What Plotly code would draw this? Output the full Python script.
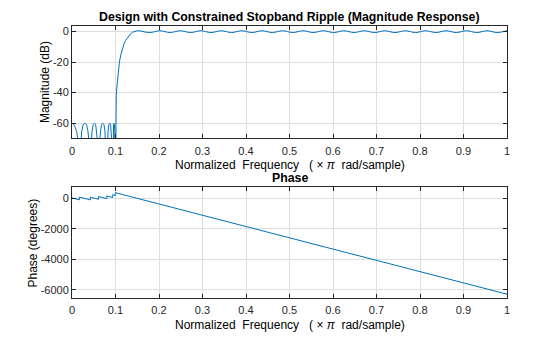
import plotly.graph_objects as go

# ---------------- magnitude response (dB) ----------------
# stopband lobes (nulls fall below the visible range and get clipped)
stop_freq = [0, 0.004, 0.008, 0.011, 0.014, 0.0158, 0.017,
             0.0183, 0.0195, 0.0225, 0.0255, 0.0295, 0.0335, 0.0365, 0.0395, 0.0407, 0.042,
             0.0430, 0.0439, 0.0462, 0.0485, 0.0515, 0.0545, 0.0568, 0.0591, 0.0600, 0.061,
             0.0620, 0.0629, 0.0652, 0.0675, 0.0705, 0.0735, 0.0758, 0.0781, 0.0790, 0.080,
             0.0807, 0.0813, 0.0830, 0.0846, 0.0868, 0.0889, 0.0905, 0.0922, 0.0928, 0.0935,
             0.0938, 0.0941, 0.0948, 0.0955, 0.0965, 0.0975, 0.0982, 0.0989, 0.0992, 0.0995]
stop_db = [-60, -60.8, -63, -66, -72, -80, -110,
           -80, -73, -65, -61, -60, -61, -65, -73, -80, -110,
           -80, -73, -65, -61, -60, -61, -65, -73, -80, -110,
           -80, -73, -65, -61, -60, -61, -65, -73, -80, -110,
           -80, -73, -65, -61, -60, -61, -65, -73, -80, -110,
           -80, -73, -65, -61, -60, -61, -65, -73, -80, -110]

# transition band
trans_freq = [0.0995, 0.1000, 0.1008, 0.1018, 0.1030, 0.1045, 0.1065, 0.109, 0.112,
              0.115, 0.119, 0.123, 0.127, 0.131, 0.135, 0.139, 0.144, 0.149, 0.155]
trans_db = [-110, -62, -48, -42, -37, -32, -26, -20, -15.5,
            -12, -8.5, -6, -4.2, -2.6, -1.4, -0.5, 0.1, 0.4, 0.5]

# passband ripple extrema
pass_freq = [0.155, 0.1785, 0.202, 0.2255, 0.249, 0.2725, 0.296, 0.3195, 0.343, 0.3665,
             0.390, 0.4135, 0.437, 0.4605, 0.484, 0.5075, 0.531, 0.5545, 0.578, 0.6015,
             0.625, 0.6485, 0.672, 0.6955, 0.719, 0.7425, 0.766, 0.7895, 0.813, 0.8365,
             0.860, 0.8835, 0.907, 0.9305, 0.954, 0.9775, 1.0]
pass_db = [0.5, -0.7, 0.5, -0.7, 0.5, -0.7, 0.5, -0.7, 0.5, -0.7,
           0.5, -0.7, 0.5, -0.7, 0.5, -0.7, 0.5, -0.7, 0.5, -0.7,
           0.5, -0.7, 0.5, -0.7, 0.5, -0.7, 0.5, -0.7, 0.5, -0.7,
           0.5, -0.7, 0.5, -0.7, 0.5, -0.7, 0.5]

# ---------------- phase (degrees) ----------------
phase_stop_freq = [0, 0.017, 0.017, 0.042, 0.042, 0.061, 0.061, 0.080, 0.080,
                   0.0935, 0.0935, 0.0995, 0.0995]
phase_stop_deg = [40, -86, 94, -91, 89, -51, 129, -12, 168, 68, 248, 204, 384]
phase_pass_freq = [0.0995, 0.2, 0.3, 0.4, 0.5, 0.6, 0.7, 0.8, 0.9, 1.0]
phase_pass_deg = [384, -360, -1100, -1840, -2580, -3320, -4060, -4800, -5540, -6280]

x_ticks = [0, 0.1, 0.2, 0.3, 0.4, 0.5, 0.6, 0.7, 0.8, 0.9, 1]
x_ticktext = ["0", "0.1", "0.2", "0.3", "0.4", "0.5", "0.6", "0.7", "0.8", "0.9", "1"]
mag_ticks = [0, -20, -40, -60]
mag_ticktext = ["0", "-20", "-40", "-60"]
ph_ticks = [0, -2000, -4000, -6000]
ph_ticktext = ["0", "-2000", "-4000", "-6000"]

BLUE = "#0072BD"
FONT = "Liberation Sans, Arial, Helvetica, sans-serif"
AXC = "#262626"
GRID = "#dedede"

fig = go.Figure()
fig.add_trace(go.Scatter(x=stop_freq, y=stop_db, mode="lines",
                         line=dict(color=BLUE, width=1), xaxis="x", yaxis="y"))
fig.add_trace(go.Scatter(x=trans_freq, y=trans_db, mode="lines",
                         line=dict(color=BLUE, width=1), xaxis="x", yaxis="y"))
fig.add_trace(go.Scatter(x=pass_freq, y=pass_db, mode="lines",
                         line=dict(color=BLUE, width=1, shape="spline"),
                         xaxis="x", yaxis="y"))
fig.add_trace(go.Scatter(x=phase_stop_freq, y=phase_stop_deg, mode="lines",
                         line=dict(color=BLUE, width=1), xaxis="x2", yaxis="y2"))
fig.add_trace(go.Scatter(x=phase_pass_freq, y=phase_pass_deg, mode="lines",
                         line=dict(color=BLUE, width=1), xaxis="x2", yaxis="y2"))

axis_common = dict(showline=True, linecolor=AXC, linewidth=1, mirror="ticks",
                   ticks="inside", ticklen=4, tickcolor=AXC, showgrid=True,
                   gridcolor=GRID, gridwidth=1, zeroline=False,
                   tickfont=dict(family=FONT, size=11, color="#262626"))

fig.update_layout(
    width=560, height=337,
    margin=dict(l=72, r=53, t=26, b=39),
    paper_bgcolor="white", plot_bgcolor="white",
    showlegend=False,
    xaxis=dict(domain=[0, 1], range=[0, 1], anchor="y", tickvals=x_ticks,
               ticktext=x_ticktext, ticklabelstandoff=2, **axis_common),
    yaxis=dict(domain=[0.5864, 1], range=[-70, 3.6], anchor="x", tickvals=mag_ticks,
               ticktext=mag_ticktext, **axis_common),
    xaxis2=dict(domain=[0, 1], range=[0, 1], anchor="y2", tickvals=x_ticks,
                ticktext=x_ticktext, ticklabelstandoff=2, **axis_common),
    yaxis2=dict(domain=[0, 0.4081], range=[-6530, 755], anchor="x2", tickvals=ph_ticks,
                ticktext=ph_ticktext, **axis_common),
)

xlabel = ("Normalized\u00a0 Frequency \u00a0\u00a0(\u00a0\u00d7\u00a0<i>\u03c0</i>"
          "\u00a0 rad/sample)")
txt = dict(family=FONT, size=12, color="black")
ttl = dict(family=FONT, size=12.3, color="black")
ann = [
    dict(text="<b>Design with Constrained Stopband Ripple (Magnitude Response)</b>",
         x=0.5, y=1.033, font=ttl),
    dict(text=xlabel, x=0.5, y=0.489, font=txt),
    dict(text="<b>Phase</b>", x=0.5, y=0.441, font=ttl),
    dict(text=xlabel, x=0.5, y=-0.099, font=txt),
    dict(text="Magnitude (dB)", x=-0.062, y=0.794, textangle=-90, font=txt),
    dict(text="Phase (degrees)", x=-0.0897, y=0.204, textangle=-90, font=txt),
]
for a in ann:
    a.update(xref="paper", yref="paper", showarrow=False,
             xanchor="center", yanchor="middle")
fig.update_layout(annotations=ann)

fig.write_html("out.html")
